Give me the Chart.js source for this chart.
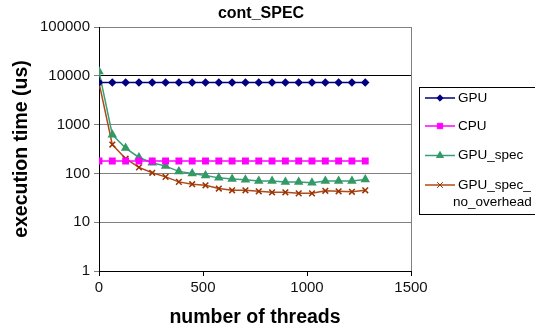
<!DOCTYPE html>
<html>
<head>
<meta charset="utf-8">
<script src="https://cdn.jsdelivr.net/npm/chart.js@4.4.1/dist/chart.umd.min.js"></script>
<style>
  body { margin: 0; background: #fff; }
  #wrap { width: 535px; height: 327px; }
</style>
</head>
<body>
<div id="wrap"><canvas id="chart" width="535" height="327"></canvas></div>
<script>
// data
const threads = [0, 64, 128, 192, 256, 320, 384, 448, 512, 576, 640, 704, 768, 832, 896, 960, 1024, 1088, 1152, 1216, 1280];
const gpu = [7300, 7300, 7300, 7300, 7300, 7300, 7300, 7300, 7300, 7300, 7300, 7300, 7300, 7300, 7300, 7300, 7300, 7300, 7300, 7300, 7300];
const cpu = [180, 180, 180, 180, 180, 180, 180, 180, 180, 180, 180, 180, 180, 180, 180, 180, 180, 180, 180, 180, 180];
const gpuSpec = [12300, 620, 330, 212, 165, 141, 110, 100, 91, 81, 77, 74, 70, 70, 67, 67, 64, 70, 70, 70, 75];
const gpuSpecNoOverhead = [7200, 390, 200, 133, 103, 85, 67, 60, 57, 49, 45, 45, 43, 41, 41, 39, 39, 44, 43, 42, 45];
const seriesNames = ['GPU', 'CPU', 'GPU_spec', 'GPU_spec_no_overhead'];
const xTicks = [0, 500, 1000, 1500];
const yTicks = [1, 10, 100, 1000, 10000, 100000];

const FONT = '"Liberation Sans", Arial, sans-serif';

function pts(arr) {
    return threads.map((t, i) => ({ x: t, y: arr[i] }));
}

// title + boxed legend drawn by hand (legend label wraps like the original)
const extras = {
    id: 'extras',
    afterDraw(chart) {
        const ctx = chart.ctx;
        ctx.save();
        ctx.fillStyle = '#000';
        ctx.font = 'bold 16px ' + FONT;
        ctx.textAlign = 'center';
        ctx.textBaseline = 'middle';
        ctx.fillText('cont_SPEC', 261, 14);

        // legend box
        ctx.strokeStyle = '#000';
        ctx.lineWidth = 1;
        ctx.strokeRect(419.5, 87.5, 130, 127);

        const rows = [98, 126, 155.5, 185];
        ctx.font = '13.5px ' + FONT;
        ctx.textAlign = 'left';
        chart.data.datasets.forEach((ds, i) => {
            const y = rows[i];
            ctx.strokeStyle = ds.borderColor;
            ctx.lineWidth = ds.borderWidth;
            ctx.beginPath();
            ctx.moveTo(425, y);
            ctx.lineTo(455, y);
            ctx.stroke();
            ctx.fillStyle = ds.pointBackgroundColor;
            ctx.strokeStyle = ds.pointBorderColor;
            ctx.lineWidth = 1;
            Chart.helpers.drawPoint(ctx, { pointStyle: ds.pointStyle, radius: ds.pointRadius, borderWidth: 1 }, 440, y);
            ctx.fillStyle = '#000';
            const label = ds.label;
            if (label.length > 10) {
                ctx.fillText(label.slice(0, 9), 458, y);
                ctx.fillText(label.slice(9), 453, y + 17);
            } else {
                ctx.fillText(label, 458, y);
            }
        });
        ctx.restore();
    }
};

new Chart(document.getElementById('chart'), {
    type: 'line',
    data: {
        datasets: [{
            label: seriesNames[0],
            data: pts(gpu),
            borderColor: '#000080',
            backgroundColor: '#000080',
            pointBackgroundColor: '#000080',
            pointBorderColor: '#000080',
            pointStyle: 'rectRot',
            pointRadius: 3.2,
            borderWidth: 1.5
        }, {
            label: seriesNames[1],
            data: pts(cpu),
            borderColor: '#FF00FF',
            backgroundColor: '#FF00FF',
            pointBackgroundColor: '#FF00FF',
            pointBorderColor: '#FF00FF',
            pointStyle: 'rect',
            pointRadius: 3.8,
            borderWidth: 1.5
        }, {
            label: seriesNames[2],
            data: pts(gpuSpec),
            borderColor: '#3A9E78',
            backgroundColor: '#339966',
            pointBackgroundColor: '#339966',
            pointBorderColor: '#339966',
            pointStyle: 'triangle',
            pointRadius: 4,
            borderWidth: 1.5
        }, {
            label: seriesNames[3],
            data: pts(gpuSpecNoOverhead),
            borderColor: '#B04A1A',
            backgroundColor: '#993300',
            pointBackgroundColor: '#993300',
            pointBorderColor: '#993300',
            pointStyle: 'crossRot',
            pointRadius: 4,
            borderWidth: 1.5
        }]
    },
    options: {
        responsive: false,
        animation: false,
        layout: { padding: { top: 27, right: 124, left: 0, bottom: 0 } },
        elements: { line: { tension: 0 } },
        scales: {
            x: {
                type: 'linear',
                min: 0,
                max: 1500,
                afterBuildTicks: (s) => { s.ticks = xTicks.map(v => ({ value: v })); },
                afterFit: (s) => { s.height = 56; },
                border: { color: '#000', width: 1 },
                grid: {
                    color: (c) => (c.tick && c.tick.value === 1500 ? '#808080' : 'rgba(0,0,0,0)'),
                    tickColor: '#000',
                    tickLength: 5
                },
                ticks: {
                    color: '#111',
                    padding: 3,
                    maxRotation: 0,
                    font: { family: FONT, size: 15 },
                    callback: (v) => String(v)
                },
                title: {
                    display: true,
                    text: 'number of threads',
                    color: '#000',
                    padding: 0,
                    font: { family: FONT, size: 19.5, weight: 'bold', lineHeight: 1 }
                }
            },
            y: {
                type: 'logarithmic',
                min: 1,
                max: 100000,
                afterBuildTicks: (s) => { s.ticks = yTicks.map(v => ({ value: v })); },
                afterFit: (s) => { s.width = 99; },
                border: { color: '#000', width: 1 },
                grid: {
                    color: (c) => (c.tick && c.tick.value === 10000 ? '#000' : '#808080'),
                    tickColor: '#808080',
                    tickLength: 5
                },
                ticks: {
                    color: '#111',
                    padding: 4,
                    font: { family: FONT, size: 15 },
                    callback: (v) => String(v)
                },
                title: {
                    display: true,
                    text: 'execution time (us)',
                    color: '#000',
                    padding: { top: 12 },
                    font: { family: FONT, size: 19.5, weight: 'bold', lineHeight: 1 }
                }
            }
        },
        plugins: {
            legend: { display: false },
            tooltip: { enabled: false }
        }
    },
    plugins: [extras]
});
</script>
</body>
</html>
